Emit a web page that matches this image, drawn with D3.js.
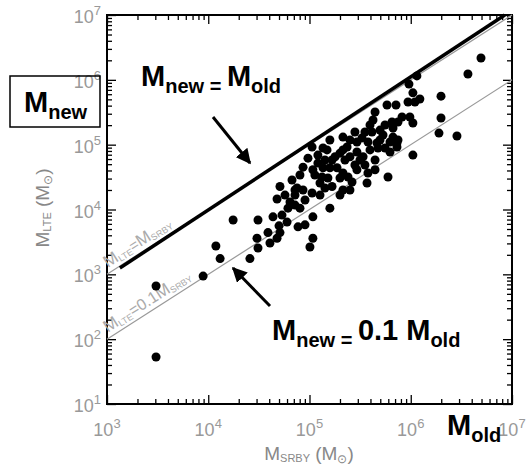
<!DOCTYPE html>
<html>
<meta charset="utf-8">
<title>LTE vs SRBY masses</title>
<style>
html,body{
  margin:0;
  background:#fff;
}
svg {
  font-family: "Liberation Sans", Arial, sans-serif;
}
.ticklab { fill:#999; font-size:18px; }
.axtitle { fill:#888; font-size:19px; }
.linelab { fill:#aaa; }
.big { fill:#000; font-weight:bold; }
</style>
<script src="https://d3js.org/d3.v7.min.js"></script>
<body>
<script>

// masses (solar masses)
var srby = [3.05e3, 3.05e3, 8.9e3, 1.19e4, 1.31e4, 1.76e4, 2.58e4, 3.03e4, 3.1e4, 3.1e4,
  4.07e4, 3.89e4, 4.78e4, 4.36e4, 5.35e4, 6.0e4, 5.0e4, 5.11e4, 5.11e4, 4.78e4,
  6.42e4, 7.19e4, 8.63e4, 1.06e5, 7.7e4, 9.03e4, 1.08e5, 1.08e5, 1.01e5, 1.59e5,
  8.63e4, 1.08e5, 1.21e5, 6.13e4, 8.05e4, 7.53e4, 7.19e4, 1.13e5, 1.33e5, 1.27e5,
  1.52e5, 1.67e5, 1.42e5, 2.14e5, 2.0e5, 1.06e5, 1.21e5, 1.36e5, 1.42e5, 1.67e5,
  1.59e5, 1.36e5, 1.87e5, 2.14e5, 2.0e5, 2.4e5, 2.63e5, 2.94e5, 3.15e5, 3.78e5,
  3.7e5, 5.96e5, 1.79e5, 2.0e5, 2.14e5, 2.51e5, 2.94e5, 3.38e5, 3.96e5, 4.75e5,
  5.57e5, 6.24e5, 4.64e5, 6.24e5, 7.31e5, 3.78e5, 2.94e5, 2.51e5, 2.14e5, 3.3e5,
  3.53e5, 4.14e5, 4.97e5, 5.32e5, 6.68e5, 7.48e5, 3.96e5, 4.24e5, 4.44e5, 5.83e5,
  7.15e5, 4.94e6, 3.67e6, 1.15e6, 9.6e5, 1.05e6, 1.99e6, 1.23e6, 1.10e6, 9.4e5,
  1.99e6, 9.8e5, 8.2e5, 1.05e6, 6.53e5, 1.9e6, 2.86e6, 6.68e5, 7.48e5, 7.31e5,
  1.05e6, 8.05e4, 9.66e4, 1.49e5, 2.24e5, 2.81e5, 3.53e5, 4.44e5, 4.97e5, 5.57e5,
  2.81e5, 2.35e5, 1.59e5, 6.72e4, 5.73e4, 9.03e4, 1.27e5, 2.51e5, 4.44e5, 7.19e4];
var lte = [660, 53, 940, 2730, 1750, 6900, 1750, 3600, 2550, 6900,
  3040, 4400, 3600, 7700, 8200, 6400, 5600, 4400, 22600, 14500,
  13100, 20000, 20000, 18000, 5400, 5800, 7700, 3600, 2640, 10500,
  45000, 41000, 52000, 10500, 10500, 21500, 16700, 34000, 31700, 25600,
  30600, 22600, 21500, 20000, 16700, 92000, 69000, 89000, 58000, 58000,
  44000, 44000, 44000, 36600, 30600, 31700, 26600, 41000, 58000, 36600,
  25600, 31700, 65000, 74000, 83000, 65000, 77000, 65000, 83000, 89000,
  89000, 77000, 106000, 110000, 106000, 110000, 110000, 118000, 131000, 127000,
  157000, 157000, 168000, 141000, 181000, 224000, 201000, 240000, 319000, 409000,
  409000, 2.17e6, 1.23e6, 1.15e6, 8.6e5, 6.3e5, 5.6e5, 5.07e5, 4.55e5, 4.55e5,
  2.58e5, 2.67e5, 2.67e5, 2.16e5, 2.24e5, 1.51e5, 1.36e5, 1.31e5, 1.18e5, 9.2e4,
  6.9e4, 34000, 62000, 83000, 58000, 48600, 48600, 58000, 118000, 201000,
  157000, 92000, 118000, 28500, 16700, 14000, 16700, 20000, 41000, 11700];

var xExponents = [3, 4, 5, 6, 7];
var yExponents = [1, 2, 3, 4, 5, 6, 7];

// hand drawn M_new = M_old line (end points)
var boldLine = [[1.34e3, 1.25e3], [8.5e6, 1e7]];

var width = 527, height = 468;

var x = d3.scaleLog().domain([1e3, 1e7]).range([107, 512]);
var y = d3.scaleLog().domain([1e1, 1e7]).range([404, 15]);

var svg = d3.select("body").append("svg")
    .attr("width", width)
    .attr("height", height);

function majors(exps) {
  return exps.map(function(e) { return Math.pow(10, e); });
}
function minors(exps) {
  var out = [];
  exps.slice(0, -1).forEach(function(e) {
    for (var m = 2; m <= 9; m++) out.push(m * Math.pow(10, e));
  });
  return out;
}

// ticks on all four sides, pointing inward
var ax = svg.append("g").attr("class", "axes");
[[d3.axisBottom, x, "translate(0,404)", xExponents],
 [d3.axisTop, x, "translate(0,15)", xExponents],
 [d3.axisLeft, y, "translate(107,0)", yExponents],
 [d3.axisRight, y, "translate(512,0)", yExponents]].forEach(function(a) {
  ax.append("g").attr("transform", a[2])
    .call(a[0](a[1]).tickValues(majors(a[3])).tickSize(-9).tickFormat(""));
  ax.append("g").attr("transform", a[2])
    .call(a[0](a[1]).tickValues(minors(a[3])).tickSize(-5).tickFormat(""));
});
ax.selectAll(".domain").remove();
ax.selectAll(".tick line").attr("stroke", "#000").attr("stroke-width", 1.3);

svg.append("rect")
    .attr("x", 107).attr("y", 15)
    .attr("width", 405).attr("height", 389)
    .attr("fill", "none")
    .attr("stroke", "#000")
    .attr("stroke-width", 2);

// tick labels  10^n
var xl = svg.append("g").selectAll("text")
    .data(xExponents).enter().append("text")
    .attr("class", "ticklab")
    .attr("text-anchor", "middle")
    .attr("x", function(d) { return x(Math.pow(10, d)); })
    .attr("y", 436);
xl.append("tspan").text("10");
xl.append("tspan").attr("dy", -8).attr("font-size", 13).text(function(d) { return d; });

var yl = svg.append("g").selectAll("text")
    .data(yExponents).enter().append("text")
    .attr("class", "ticklab")
    .attr("text-anchor", "end")
    .attr("x", 101)
    .attr("y", function(d) { return y(Math.pow(10, d)) + 8; });
yl.append("tspan").text("10");
yl.append("tspan").attr("dy", -8).attr("font-size", 13).text(function(d) { return d; });

// axis titles
var xt = svg.append("text").attr("class", "axtitle")
    .attr("x", 309).attr("y", 460).attr("text-anchor", "middle");
xt.append("tspan").text("M");
xt.append("tspan").attr("font-size", 11).attr("dy", 2).text("SRBY");
xt.append("tspan").attr("dy", -2).text("  (M");
xt.append("tspan").attr("font-size", 12).attr("dy", 3).text("\u2299");
xt.append("tspan").attr("dy", -3).text(")");

var yt = svg.append("text").attr("class", "axtitle")
    .attr("transform", "translate(49,208) rotate(-90)")
    .attr("text-anchor", "middle");
yt.append("tspan").text("M");
yt.append("tspan").attr("font-size", 11).attr("dy", 2).text("LTE");
yt.append("tspan").attr("dy", -2).text("  (M");
yt.append("tspan").attr("font-size", 12).attr("dy", 3).text("\u2299");
yt.append("tspan").attr("dy", -3).text(")");

// reference lines
var line = d3.line()
    .x(function(d) { return x(d[0]); })
    .y(function(d) { return y(d[1]); });

svg.append("path")
    .attr("d", line([[1e3, 1e3], [1e7, 1e7]]))
    .attr("stroke", "#999").attr("stroke-width", 1.2).attr("fill", "none");
svg.append("path")
    .attr("d", line([[1e3, 1e2], [1e7, 1e6]]))
    .attr("stroke", "#999").attr("stroke-width", 1.2).attr("fill", "none");
svg.append("path")
    .attr("d", line(boldLine))
    .attr("stroke", "#000").attr("stroke-width", 3.5).attr("fill", "none");

var ang = Math.atan2(y(1e7) - y(1e3), x(1e7) - x(1e3)) * 180 / Math.PI;

function lineLabel(px, py, parts) {
  var t = svg.append("text").attr("class", "linelab")
      .attr("transform", "translate(" + x(px) + "," + y(py) + ") rotate(" + ang + ")")
      .attr("y", -5);
  parts.forEach(function(p) {
    t.append("tspan").attr("font-size", p[1]).attr("dy", p[2]).text(p[0]);
  });
}
lineLabel(1.08e3, 1.08e3, [["M", 17, 0], ["LTE", 9, 2], ["=", 15, -2], ["M", 17, 0], ["SRBY", 9, 2]]);
lineLabel(1.08e3, 1.08e2, [["M", 17, 0], ["LTE", 9, 2], ["=0.1", 16, -2], ["M", 17, 0], ["SRBY", 9, 2]]);

// data points
svg.append("g").selectAll("circle")
    .data(srby.map(function(d, i) { return [d, lte[i]]; }))
    .enter().append("circle")
    .attr("cx", function(d) { return x(d[0]); })
    .attr("cy", function(d) { return y(d[1]); })
    .attr("r", 4.5)
    .attr("fill", "#000");

// arrows
svg.append("defs").append("marker")
    .attr("id", "head")
    .attr("viewBox", "0 0 10 10")
    .attr("refX", 9).attr("refY", 5)
    .attr("markerWidth", 5).attr("markerHeight", 5)
    .attr("markerUnits", "strokeWidth")
    .attr("orient", "auto")
  .append("path")
    .attr("d", "M0,0L10,5L0,10z")
    .attr("fill", "#000");

svg.append("line")
    .attr("x1", 213).attr("y1", 117).attr("x2", 250).attr("y2", 163)
    .attr("stroke", "#000").attr("stroke-width", 3)
    .attr("marker-end", "url(#head)");
svg.append("line")
    .attr("x1", 270).attr("y1", 306).attr("x2", 233).attr("y2", 268)
    .attr("stroke", "#000").attr("stroke-width", 3)
    .attr("marker-end", "url(#head)");

// big annotations
function bigText(px, py, parts) {
  var t = svg.append("text").attr("class", "big").attr("x", px).attr("y", py);
  parts.forEach(function(p) {
    t.append("tspan").attr("font-size", p[1]).attr("dy", p[2]).text(p[0]);
  });
  return t;
}

svg.append("rect")
    .attr("x", 10).attr("y", 76).attr("width", 90).attr("height", 51)
    .attr("fill", "none").attr("stroke", "#000").attr("stroke-width", 1.5);
bigText(24, 112, [["M", 29, 0], ["new", 20, 7]]);

bigText(141, 86, [["M", 29, 0], ["new", 20, 7], [" = ", 20, 0], ["M", 29, -7], ["old", 20, 7]]);

bigText(272, 340, [["M", 29, 0], ["new", 20, 7], [" = ", 20, 0], ["0.1 M", 29, -7], ["old", 20, 7]]);

bigText(447, 435, [["M", 29, 0], ["old", 20, 7]]);

</script>
</body>
</html>
